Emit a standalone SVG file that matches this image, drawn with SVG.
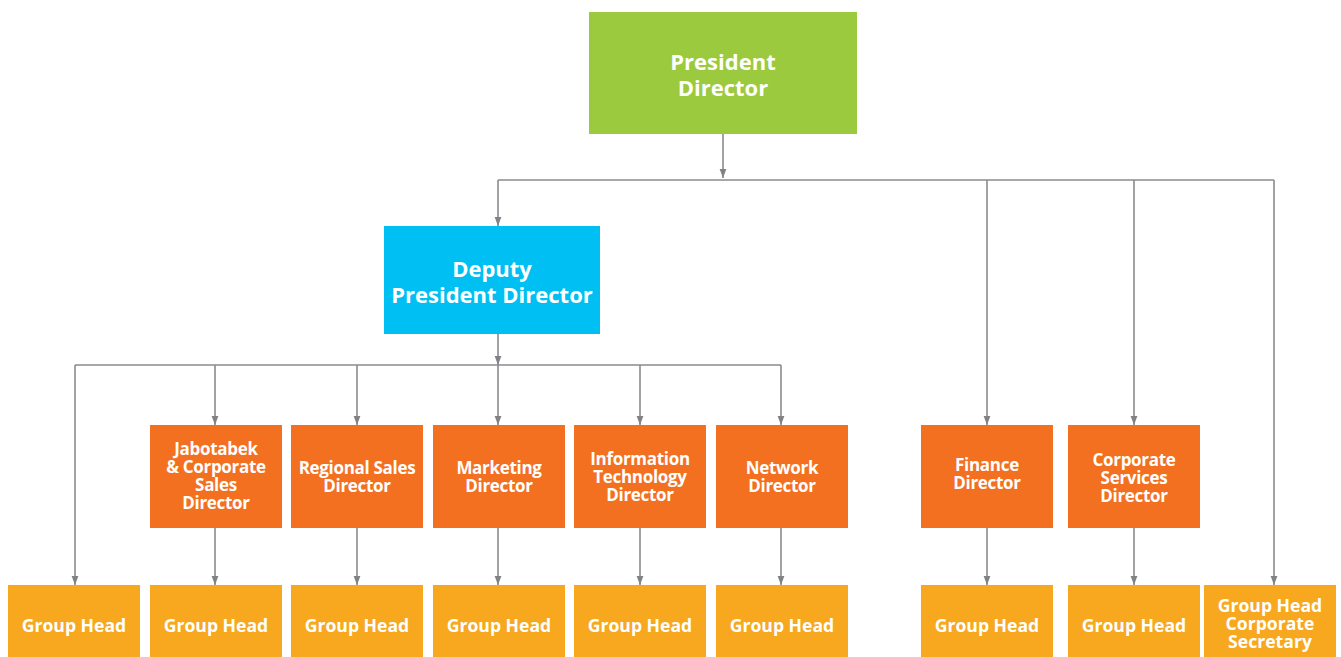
<svg xmlns="http://www.w3.org/2000/svg" width="1341" height="657" viewBox="0 0 1341 657">
<defs>
<marker id="arr" markerWidth="9" markerHeight="12" refX="12" refY="4.5" orient="auto" markerUnits="userSpaceOnUse" viewBox="0 0 12 9">
<path d="M0,0 L12,4.5 L0,9 Z" fill="#808285"/>
</marker>
<style>
.c{fill:none;stroke:#8a8b8e;stroke-width:1.6}
.t{font-family:"Open Sans","Noto Sans",sans-serif;font-weight:bold;fill:#fff;text-anchor:middle}
.big{font-size:22px}
.mid{font-size:17px;letter-spacing:-0.3px}
.gh{font-size:17.6px}
.g{fill:#9bca3e}.b{fill:#00c0f3}.o{fill:#f37021}.y{fill:#f7a81e}
</style>
</defs>
<g id="connectors">
<path class="c" d="M723,134 V178" marker-end="url(#arr)"/>
<path class="c" d="M498,180 H1274"/>
<path class="c" d="M498,180 V226" marker-end="url(#arr)"/>
<path class="c" d="M987,180 V425" marker-end="url(#arr)"/>
<path class="c" d="M1134,180 V425" marker-end="url(#arr)"/>
<path class="c" d="M1274,180 V585" marker-end="url(#arr)"/>
<path class="c" d="M498,334 V365" marker-end="url(#arr)"/>
<path class="c" d="M75,365 H781"/>
<path class="c" d="M75,365 V585" marker-end="url(#arr)"/>
<path class="c" d="M215,365 V425" marker-end="url(#arr)"/>
<path class="c" d="M357,365 V425" marker-end="url(#arr)"/>
<path class="c" d="M498,365 V425" marker-end="url(#arr)"/>
<path class="c" d="M640,365 V425" marker-end="url(#arr)"/>
<path class="c" d="M781,365 V425" marker-end="url(#arr)"/>
<path class="c" d="M215,528 V585" marker-end="url(#arr)"/>
<path class="c" d="M357,528 V585" marker-end="url(#arr)"/>
<path class="c" d="M498,528 V585" marker-end="url(#arr)"/>
<path class="c" d="M640,528 V585" marker-end="url(#arr)"/>
<path class="c" d="M781,528 V585" marker-end="url(#arr)"/>
<path class="c" d="M987,528 V585" marker-end="url(#arr)"/>
<path class="c" d="M1134,528 V585" marker-end="url(#arr)"/>
</g>
<g id="president"><rect class="g" x="589" y="12" width="268" height="122"/><text class="t big" x="723" y="70">President<tspan x="723" dy="26">Director</tspan></text></g>
<g id="deputy"><rect class="b" x="384" y="226" width="216" height="108"/><text class="t big" x="492" y="277">Deputy<tspan x="492" dy="26">President Director</tspan></text></g>
<g id="jabotabek"><rect class="o" x="150" y="425" width="132" height="103"/><text class="t mid" x="216" y="455">Jabotabek<tspan x="216" dy="18">&amp; Corporate</tspan><tspan x="216" dy="18">Sales</tspan><tspan x="216" dy="18">Director</tspan></text></g>
<g id="regional"><rect class="o" x="291" y="425" width="132" height="103"/><text class="t mid" x="357" y="474">Regional Sales<tspan x="357" dy="18">Director</tspan></text></g>
<g id="marketing"><rect class="o" x="433" y="425" width="132" height="103"/><text class="t mid" x="499" y="474">Marketing<tspan x="499" dy="18">Director</tspan></text></g>
<g id="it"><rect class="o" x="574" y="425" width="132" height="103"/><text class="t mid" x="640" y="465">Information<tspan x="640" dy="18">Technology</tspan><tspan x="640" dy="18">Director</tspan></text></g>
<g id="network"><rect class="o" x="716" y="425" width="132" height="103"/><text class="t mid" x="782" y="474">Network<tspan x="782" dy="18">Director</tspan></text></g>
<g id="finance"><rect class="o" x="921" y="425" width="132" height="103"/><text class="t mid" x="987" y="471">Finance<tspan x="987" dy="18">Director</tspan></text></g>
<g id="corpservices"><rect class="o" x="1068" y="425" width="132" height="103"/><text class="t mid" x="1134" y="466">Corporate<tspan x="1134" dy="18">Services</tspan><tspan x="1134" dy="18">Director</tspan></text></g>
<g id="gh1"><rect class="y" x="8" y="585" width="132" height="72"/><text class="t gh" x="74" y="632">Group Head</text></g>
<g id="gh2"><rect class="y" x="150" y="585" width="132" height="72"/><text class="t gh" x="216" y="632">Group Head</text></g>
<g id="gh3"><rect class="y" x="291" y="585" width="132" height="72"/><text class="t gh" x="357" y="632">Group Head</text></g>
<g id="gh4"><rect class="y" x="433" y="585" width="132" height="72"/><text class="t gh" x="499" y="632">Group Head</text></g>
<g id="gh5"><rect class="y" x="574" y="585" width="132" height="72"/><text class="t gh" x="640" y="632">Group Head</text></g>
<g id="gh6"><rect class="y" x="716" y="585" width="132" height="72"/><text class="t gh" x="782" y="632">Group Head</text></g>
<g id="gh7"><rect class="y" x="921" y="585" width="132" height="72"/><text class="t gh" x="987" y="632">Group Head</text></g>
<g id="gh8"><rect class="y" x="1068" y="585" width="132" height="72"/><text class="t gh" x="1134" y="632">Group Head</text></g>
<g id="gh9"><rect class="y" x="1204" y="585" width="132" height="72"/><text class="t gh" x="1270" y="612">Group Head<tspan x="1270" dy="18">Corporate</tspan><tspan x="1270" dy="18">Secretary</tspan></text></g>
</svg>
